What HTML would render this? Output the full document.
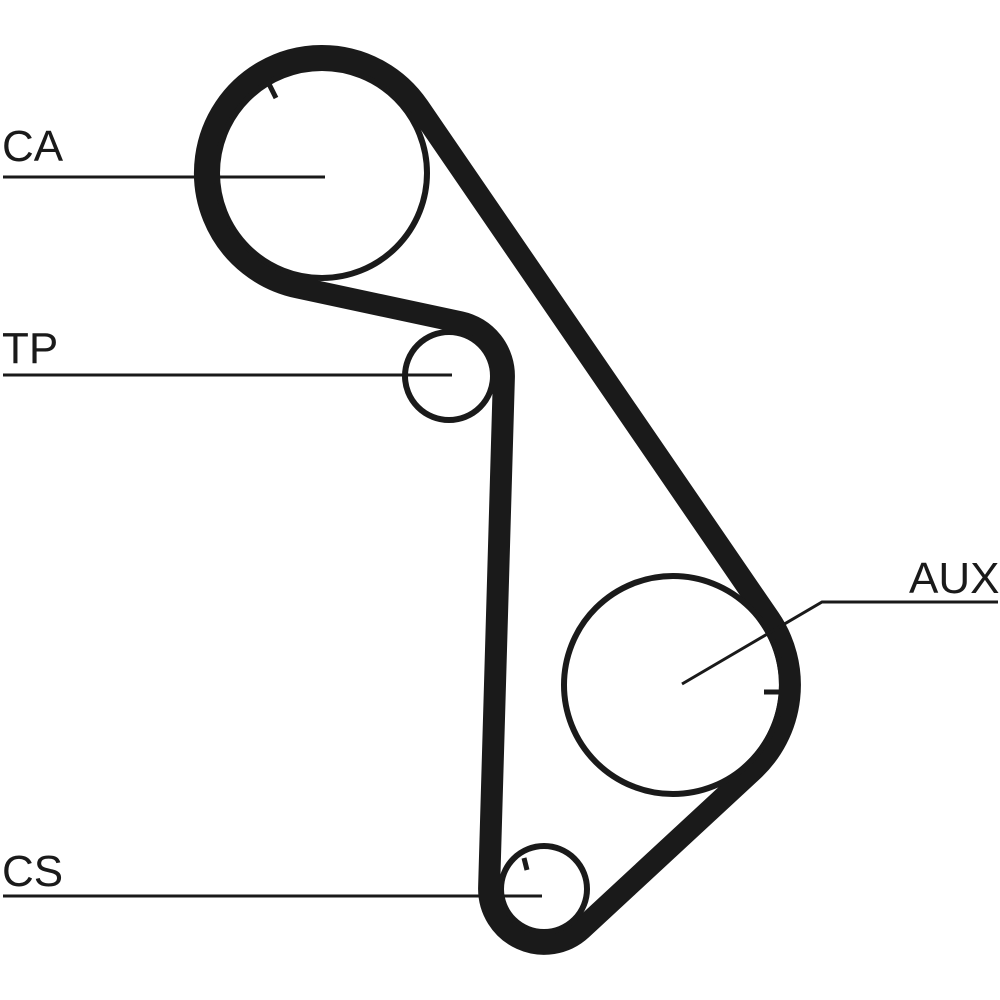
<!DOCTYPE html>
<html><head><meta charset="utf-8"><style>
html,body{margin:0;padding:0;background:#fff;}
svg{display:block}
text{font-family:"Liberation Sans",sans-serif;font-size:44px;fill:#1a1a1a}
</style></head><body>
<svg width="1000" height="1000" viewBox="0 0 1000 1000" xmlns="http://www.w3.org/2000/svg">
<g fill="none" stroke="#1a1a1a">
<path stroke-width="22" stroke-linejoin="round" d="M297.5,287.4 A117,117 0 1 1 418.5,106.9 L769.5,618.9 A117,117 0 0 1 752.4,770.8 L581.3,929.3 A55,55 0 0 1 489.1,887.4 L503.9,377.6 A55,55 0 0 0 460.5,322.2 Z"/>
<circle cx="322" cy="173" r="105" stroke-width="6"/>
<circle cx="449" cy="376" r="44" stroke-width="6"/>
<circle cx="673" cy="685" r="109" stroke-width="6"/>
<circle cx="544" cy="889" r="43" stroke-width="6"/>
<g stroke-width="5">
<line x1="268" y1="82" x2="276" y2="98"/>
<line x1="764" y1="692" x2="781" y2="692"/>
<line x1="524" y1="858" x2="527" y2="870"/>
</g>
<g stroke-width="3">
<line x1="3" y1="177" x2="325" y2="177"/>
<line x1="3" y1="375" x2="452" y2="375"/>
<line x1="3" y1="896" x2="542" y2="896"/>
<polyline points="998,602 822,602 682,684"/>
</g>
</g>
<text x="2" y="161">CA</text>
<text x="2" y="363">TP</text>
<text x="909" y="593">AUX</text>
<text x="2" y="886">CS</text>
</svg>
</body></html>
